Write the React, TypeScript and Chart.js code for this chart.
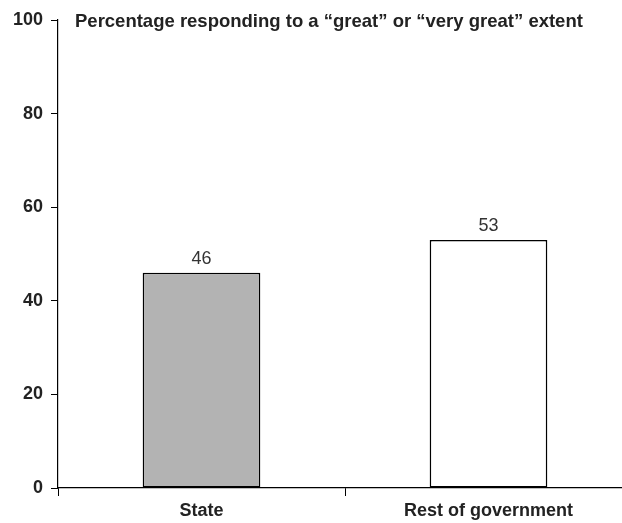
import React, { useEffect, useRef } from "react";
import { Chart, registerables } from "chart.js";

Chart.register(...registerables);

const categories = ["State", "Rest of government"];
const values = [46, 53];
const barColors = ["#b3b3b3", "#ffffff"];
const yTicks = [0, 20, 40, 60, 80, 100];
const titleText = "Percentage responding to a \u201cgreat\u201d or \u201cvery great\u201d extent";

const FONT = "'Liberation Sans', Arial, sans-serif";

const labelPlugin = {
  id: "labels",
  afterDatasetsDraw(chart: any) {
    const ctx = chart.ctx;
    const meta = chart.getDatasetMeta(0);
    ctx.save();
    ctx.fillStyle = "#333";
    ctx.font = `18px ${FONT}`;
    ctx.textAlign = "center";
    ctx.textBaseline = "bottom";
    meta.data.forEach((bar: any, i: number) => {
      ctx.fillText(String(values[i]), bar.x, bar.y - 5);
    });
    ctx.fillStyle = "#222";
    ctx.font = `bold 18.5px ${FONT}`;
    ctx.textAlign = "left";
    ctx.textBaseline = "middle";
    const y = chart.scales.y.getPixelForValue(100);
    ctx.fillText(titleText, chart.chartArea.left + 17, y + 2);
    ctx.restore();
  },
};

export default function App() {
  const ref = useRef<HTMLCanvasElement>(null);
  useEffect(() => {
    const chart = new Chart(ref.current!, {
      type: "bar",
      data: {
        labels: categories,
        datasets: [
          {
            data: values,
            backgroundColor: barColors,
            borderColor: "#000",
            borderWidth: 1.6,
            borderSkipped: false,
            barPercentage: 0.41,
            categoryPercentage: 1,
          },
        ],
      },
      options: {
        animation: false,
        responsive: false,
        maintainAspectRatio: false,
        layout: { padding: { top: 20, right: 8, left: 0, bottom: 0 } },
        plugins: { legend: { display: false }, tooltip: { enabled: false } },
        scales: {
          x: {
            type: "category",
            offset: true,
            grid: {
              offset: true,
              drawOnChartArea: false,
              drawTicks: true,
              tickLength: 8,
              tickColor: "#000",
            },
            border: { display: true, color: "#000", width: 1.2 },
            ticks: {
              color: "#222",
              font: { family: FONT, size: 18, weight: "bold" },
              padding: 4,
            },
            afterFit: (s: any) => {
              s.height = 35;
            },
          },
          y: {
            min: 0,
            max: 100,
            afterBuildTicks: (s: any) => {
              s.ticks = yTicks.map((v) => ({ value: v }));
            },
            grid: {
              drawOnChartArea: false,
              drawTicks: true,
              tickLength: 7,
              tickColor: "#000",
            },
            border: { display: true, color: "#000", width: 1.2 },
            ticks: {
              color: "#222",
              font: { family: FONT, size: 18, weight: "bold" },
              padding: 8,
            },
            afterFit: (s: any) => {
              s.width = 58;
            },
          },
        },
      },
      plugins: [labelPlugin],
    });
    return () => chart.destroy();
  }, []);
  return (
    <div
      style={{
        position: "absolute",
        left: 0,
        top: 0,
        width: 622,
        height: 523,
        overflow: "hidden",
        background: "#fff",
      }}
    >
      <canvas ref={ref} width={640} height={523} style={{ display: "block" }} />
    </div>
  );
}
